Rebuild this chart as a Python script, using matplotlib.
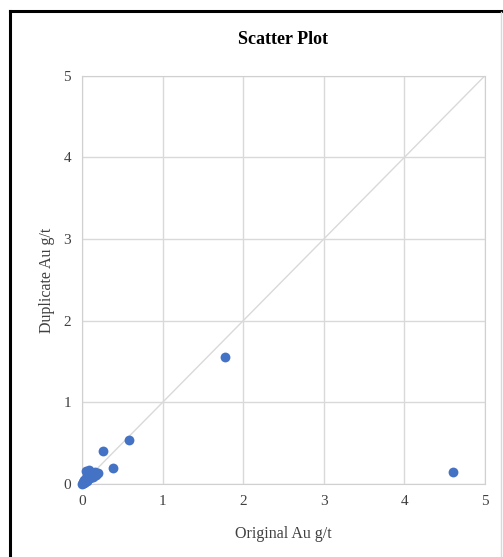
import numpy as np
import matplotlib
matplotlib.use('Agg')
import matplotlib.pyplot as plt
from matplotlib.lines import Line2D

original = [0.00, 0.01, 0.02, 0.03, 0.04, 0.05, 0.06, 0.07, 0.08, 0.10,
            0.12, 0.14, 0.16, 0.18, 0.20, 0.05, 0.09, 0.26, 0.39, 0.58, 1.78, 4.60]
duplicate = [0.00, 0.02, 0.01, 0.05, 0.03, 0.07, 0.04, 0.10, 0.06, 0.08,
             0.12, 0.09, 0.15, 0.11, 0.13, 0.16, 0.17, 0.40, 0.20, 0.54, 1.55, 0.15]
ticks = [0, 1, 2, 3, 4, 5]

plt.rcParams['font.family'] = ['Liberation Serif', 'DejaVu Serif']

fig = plt.figure(figsize=(5.03, 5.57), dpi=100)
ax = fig.add_axes([0.163, 0.131, 0.801, 0.733])

ax.plot([0, 5], [0, 5], color='#d9d9d9', lw=1.0, zorder=1)
ax.scatter(original, duplicate, s=50, color='#4472c4', zorder=3, linewidths=0, clip_on=False)

ax.set_xlim(0, 5)
ax.set_ylim(0, 5)
ax.set_xticks(ticks)
ax.set_yticks(ticks)
ax.grid(True, color='#d9d9d9', lw=1.0)
ax.set_axisbelow(True)
for s in ax.spines.values():
    s.set_color('#d0d0d0')
ax.tick_params(length=0, labelsize=11, colors='#404040', pad=8)

ax.set_title('Scatter Plot', fontsize=13, fontweight='bold', pad=23)
ax.set_xlabel('Original Au g/t', fontsize=11.5, color='#404040', labelpad=13)
ax.set_ylabel('Duplicate Au g/t', fontsize=11.5, color='#404040', labelpad=6)

# chart frame
fig.add_artist(Line2D([10/503, 10/503], [0, 1 - 11/557], color='black', lw=2.2, transform=fig.transFigure))
fig.add_artist(Line2D([10/503, 1], [1 - 11/557, 1 - 11/557], color='black', lw=2.2, transform=fig.transFigure))
fig.add_artist(Line2D([501/503, 501/503], [0, 1 - 12/557], color='#d9d9d9', lw=1, transform=fig.transFigure))

fig.savefig('out.png', dpi=100)
